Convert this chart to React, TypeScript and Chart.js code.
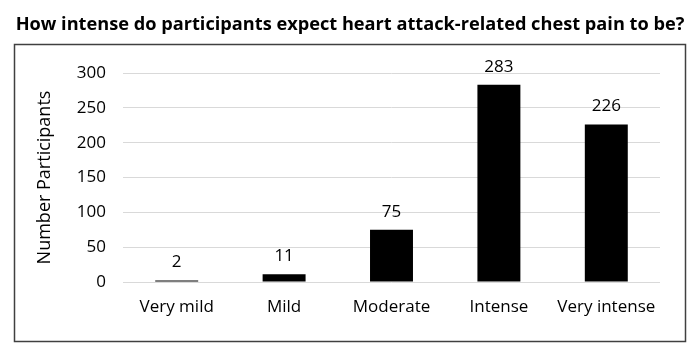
import React, { useEffect, useRef } from "react";
import { Chart, registerables } from "chart.js";

Chart.register(...registerables);

const TITLE = "How intense do participants expect heart attack-related chest pain to be?";
const categories = ["Very mild", "Mild", "Moderate", "Intense", "Very intense"];
const participants = [2, 11, 75, 283, 226];
const yTicks = [0, 50, 100, 150, 200, 250, 300];
const yAxisTitle = "Number Participants";

const FONT = "'Open Sans', sans-serif";

export default function App() {
  const ref = useRef<HTMLCanvasElement>(null);

  useEffect(() => {
    document.body.style.margin = "0";
    const canvas = ref.current;
    if (!canvas) return;

    const framePlugin = {
      id: "frame",
      beforeDraw(chart: any) {
        const ctx = chart.ctx;
        ctx.save();
        ctx.fillStyle = "#ffffff";
        ctx.fillRect(0, 0, chart.width, chart.height);
        ctx.fillStyle = "#000000";
        ctx.font = `bold 18.2px ${FONT}`;
        ctx.textAlign = "center";
        ctx.textBaseline = "middle";
        ctx.fillText(TITLE, 350, 25);
        ctx.strokeStyle = "#404040";
        ctx.lineWidth = 1.5;
        ctx.strokeRect(14.5, 44.5, 671, 297);
        ctx.restore();
      },
    };

    const labelPlugin = {
      id: "barLabels",
      afterDatasetsDraw(chart: any) {
        const ctx = chart.ctx;
        const meta = chart.getDatasetMeta(0);
        ctx.save();
        ctx.fillStyle = "#000000";
        ctx.font = `17px ${FONT}`;
        ctx.textAlign = "center";
        ctx.textBaseline = "middle";
        meta.data.forEach((bar: any, i: number) => {
          ctx.fillText(String(participants[i]), bar.x, bar.y - 18);
        });
        ctx.restore();
      },
    };

    const chart = new Chart(canvas, {
      type: "bar",
      data: {
        labels: categories,
        datasets: [
          {
            data: participants,
            backgroundColor: "#000000",
            borderWidth: 0,
            barPercentage: 0.4,
            categoryPercentage: 1,
          },
        ],
      },
      options: {
        responsive: false,
        animation: false,
        layout: { padding: { top: 73, right: 40, bottom: 0, left: 0 } },
        plugins: {
          legend: { display: false },
          title: { display: false },
          tooltip: { enabled: false },
        },
        scales: {
          x: {
            grid: { display: false, drawTicks: false },
            border: { display: false },
            ticks: {
              color: "#000000",
              font: { family: FONT, size: 17 },
              padding: 15,
              maxRotation: 0,
              autoSkip: false,
            },
            afterFit(scale: any) {
              scale.height = 68;
            },
          },
          y: {
            min: 0,
            max: 300,
            grid: { color: "#d9d9d9", lineWidth: 1, drawTicks: false },
            border: { display: false },
            ticks: {
              color: "#000000",
              font: { family: FONT, size: 17 },
              padding: 17,
            },
            afterBuildTicks(scale: any) {
              scale.ticks = yTicks.map((v) => ({ value: v }));
            },
            afterFit(scale: any) {
              scale.width = 123;
            },
            title: {
              display: true,
              text: yAxisTitle,
              color: "#000000",
              font: { family: FONT, size: 18 },
              padding: { top: 34, bottom: 0 },
            },
          },
        },
      },
      plugins: [framePlugin, labelPlugin],
    });

    return () => chart.destroy();
  }, []);

  return (
    <div style={{ position: "fixed", left: 0, top: 0, width: 700, height: 350 }}>
      <canvas ref={ref} width={700} height={350} style={{ display: "block" }} />
    </div>
  );
}
